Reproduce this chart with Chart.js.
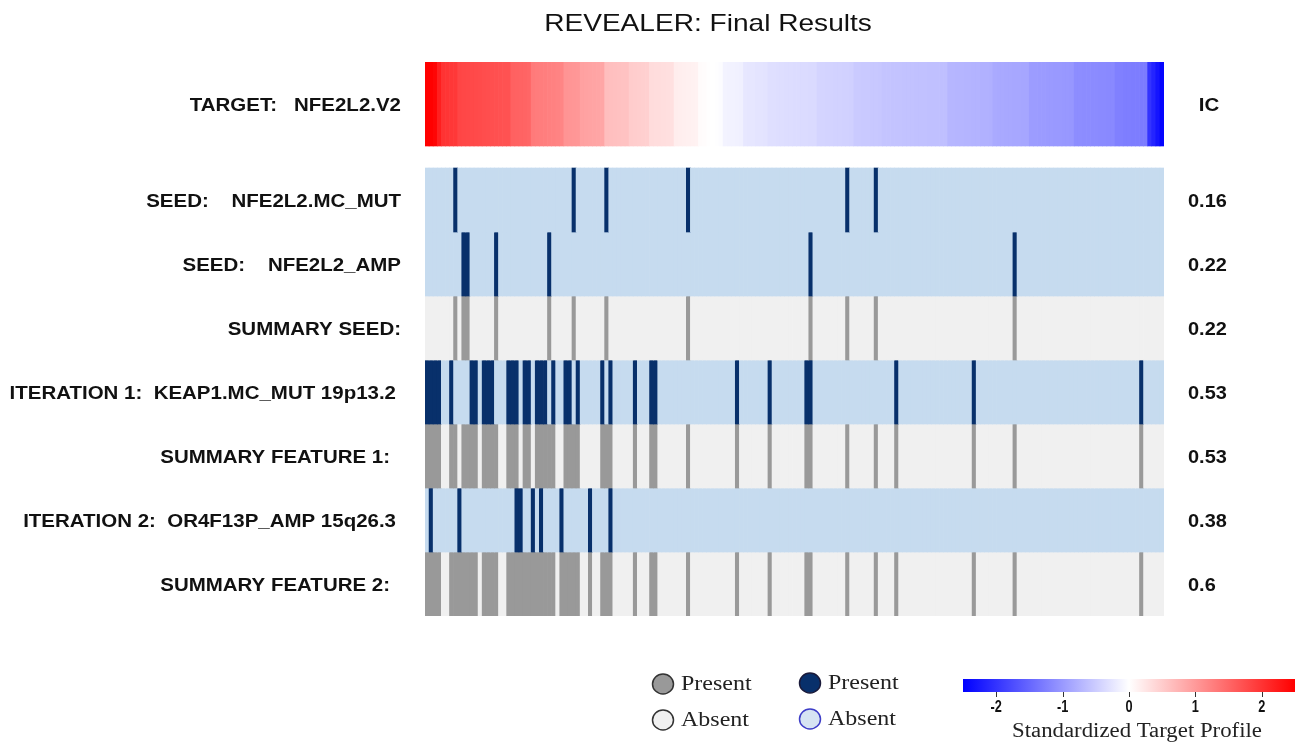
<!DOCTYPE html>
<html>
<head>
<meta charset="utf-8">
<title>REVEALER: Final Results</title>
<script src="https://cdn.jsdelivr.net/npm/chart.js@4.4.1/dist/chart.umd.min.js"></script>
<style>
  html, body { margin: 0; padding: 0; background: #ffffff; }
  #wrap { position: relative; width: 1308px; height: 749px; }
  canvas { display: block; }
</style>
</head>
<body>
<div id="wrap"><canvas id="revealer" width="1308" height="749"></canvas></div>
<script>
// Target profile (NFE2L2.V2), samples ordered from highest to lowest score
const targetProfile = [
  2.5, 2.5, 2.45, 2.2,
  2.0, 1.98, 1.96, 1.95,
  1.82, 1.8, 1.79, 1.78, 1.77, 1.76, 1.75, 1.74, 1.73, 1.72, 1.71, 1.7, 1.7,
  1.55, 1.54, 1.53, 1.52, 1.5,
  1.3, 1.28, 1.27, 1.26, 1.25, 1.24, 1.22, 1.2,
  1.05, 1.04, 1.03, 1.02,
  0.92, 0.91, 0.9, 0.89, 0.88, 0.87,
  0.64, 0.63, 0.62, 0.61, 0.6, 0.6,
  0.5, 0.49, 0.48, 0.47, 0.46,
  0.34, 0.33, 0.33, 0.32, 0.31, 0.3,
  0.18, 0.17, 0.16, 0.15, 0.14, 0.13,
  0.04, 0.03, 0.01, 0, -0.01, -0.03,
  -0.12, -0.13, -0.13, -0.14, -0.15,
  -0.24, -0.25, -0.25, -0.26, -0.26, -0.27,
  -0.31, -0.31, -0.32, -0.32, -0.33, -0.33, -0.34, -0.34, -0.35, -0.35, -0.36, -0.36,
  -0.42, -0.42, -0.43, -0.43, -0.44, -0.44, -0.45, -0.45, -0.46,
  -0.52, -0.52, -0.53, -0.53, -0.54, -0.54, -0.55,
  -0.58, -0.58, -0.59, -0.59, -0.59, -0.6, -0.6, -0.6, -0.61, -0.61, -0.61, -0.62, -0.62, -0.62, -0.63, -0.63,
  -0.72, -0.72, -0.73, -0.73, -0.74, -0.74, -0.75, -0.75, -0.76, -0.76, -0.77,
  -0.83, -0.84, -0.84, -0.85, -0.85, -0.86, -0.86, -0.87, -0.87,
  -0.97, -0.97, -0.98, -0.98, -0.99, -0.99, -1.0, -1.0, -1.01, -1.01, -1.02,
  -1.12, -1.12, -1.13, -1.13, -1.14, -1.14, -1.15, -1.15, -1.16, -1.16,
  -1.25, -1.25, -1.26, -1.26, -1.27, -1.27, -1.28, -1.28,
  -2.0, -2.15, -2.3, -2.45
];

// Sample positions (0-based, in target order) where each feature is present
const seedMcMut   = [7, 36, 44, 64, 103, 110];
const seedAmp     = [9, 10, 17, 30, 94, 144];
const summarySeed = [7, 9, 10, 17, 30, 36, 44, 64, 94, 103, 110, 144];
const keap1McMut  = [0, 1, 2, 3, 6, 11, 12, 14, 15, 16, 20, 21, 22, 24, 25, 27, 28, 29, 31,
                     34, 35, 37, 43, 45, 51, 55, 56, 76, 84, 93, 94, 115, 134, 175];
const summaryFeature1 = [0, 1, 2, 3, 6, 7, 9, 10, 11, 12, 14, 15, 16, 17, 20, 21, 22, 24, 25,
                     27, 28, 29, 30, 31, 34, 35, 36, 37, 43, 44, 45, 51, 55, 56, 64, 76, 84,
                     93, 94, 103, 110, 115, 134, 144, 175];
const or4f13pAmp  = [1, 8, 22, 23, 26, 28, 33, 40, 45];
const summaryFeature2 = [0, 1, 2, 3, 6, 7, 8, 9, 10, 11, 12, 14, 15, 16, 17, 20, 21, 22, 23, 24,
                     25, 26, 27, 28, 29, 30, 31, 33, 34, 35, 36, 37, 40, 43, 44, 45, 51, 55, 56,
                     64, 76, 84, 93, 94, 103, 110, 115, 134, 144, 175];

// Row names, kinds and information coefficients
const targetName = 'TARGET:   NFE2L2.V2';
const rowNames = [
  'SEED:    NFE2L2.MC_MUT',
  'SEED:    NFE2L2_AMP',
  'SUMMARY SEED:',
  'ITERATION 1:  KEAP1.MC_MUT 19p13.2',
  'SUMMARY FEATURE 1:',
  'ITERATION 2:  OR4F13P_AMP 15q26.3',
  'SUMMARY FEATURE 2:'
];
const rowKinds = ['feature', 'feature', 'summary', 'feature', 'summary', 'feature', 'summary'];
const rowPresent = [seedMcMut, seedAmp, summarySeed, keap1McMut, summaryFeature1, or4f13pAmp, summaryFeature2];
const icValues = ['0.16', '0.22', '0.22', '0.53', '0.53', '0.38', '0.6'];
const colorbarTicks = [-2, -1, 0, 1, 2];

// ---- styling ----
const COLORS = {
  feature: { on: '#08306b', off: '#c6dbef' },
  summary: { on: '#999999', off: '#f0f0f0' }
};
const PROFILE_LIMIT = 2.5;
const TARGET_H = 1.3125;      // target band height in row units
const ROW_START = 1.65625;    // first feature row (row units)
const Y_MAX = ROW_START + rowNames.length;
const TEXT_SX = 1.17;         // horizontal stretch of the typeface
const SANS = '"Liberation Sans", Arial, Helvetica, sans-serif';
const SERIF = '"Liberation Serif", "DejaVu Serif", "Times New Roman", serif';
const LABEL_FONT = `bold 17.5px ${SANS}`;

function profileColor(v) {
  const t = Math.min(1, Math.abs(v) / PROFILE_LIMIT);
  const c = Math.round(255 * (1 - t));
  return v >= 0 ? `rgb(255,${c},${c})` : `rgb(${c},${c},255)`;
}

const sampleIds = targetProfile.map((_, i) => 'S' + (i + 1));

const datasets = [];
datasets.push({
  label: targetName,
  data: sampleIds.map(() => [0, TARGET_H]),
  backgroundColor: targetProfile.map(profileColor)
});
rowNames.forEach((name, r) => {
  const present = new Set(rowPresent[r]);
  const pal = COLORS[rowKinds[r]];
  const lo = ROW_START + r, hi = lo + 1;
  datasets.push({
    label: name,
    data: sampleIds.map(() => [lo, hi]),
    backgroundColor: sampleIds.map((_, i) => present.has(i) ? pal.on : pal.off)
  });
});

function stretchedText(ctx, str, x, y, font, align, color, sx) {
  ctx.save();
  ctx.font = font;
  ctx.fillStyle = color || '#111';
  ctx.textBaseline = 'middle';
  ctx.textAlign = align;
  ctx.translate(x, y);
  ctx.scale(sx || TEXT_SX, 1);
  ctx.fillText(str, 0, 0);
  ctx.restore();
}

const labelRight = [401, 401, 401, 396, 390, 396, 390];

const decorations = {
  id: 'revealerDecorations',
  afterDraw(chart) {
    const ctx = chart.ctx;
    const y = chart.scales.y;

    // title
    stretchedText(ctx, 'REVEALER: Final Results', 708, 24, `24px ${SANS}`, 'center', '#111');

    // target label and IC header
    const tMid = y.getPixelForValue(TARGET_H / 2) + 2;
    stretchedText(ctx, targetName, 401, tMid, LABEL_FONT, 'right');
    stretchedText(ctx, 'IC', 1209, tMid, LABEL_FONT, 'center');

    // feature row labels and IC values
    rowNames.forEach((name, r) => {
      const mid = y.getPixelForValue(ROW_START + r + 0.5) + 2;
      stretchedText(ctx, name, labelRight[r], mid, LABEL_FONT, 'right');
      stretchedText(ctx, icValues[r], 1188, mid, LABEL_FONT, 'left', '#111', 1.14);
    });

    // legend for present / absent
    const items = [
      { x: 663, y: 684, fill: COLORS.summary.on, stroke: '#333', text: 'Present' },
      { x: 663, y: 720, fill: COLORS.summary.off, stroke: '#333', text: 'Absent' },
      { x: 810, y: 683, fill: COLORS.feature.on, stroke: '#1a1a3a', text: 'Present' },
      { x: 810, y: 719, fill: '#d6e4f3', stroke: '#3d3dc8', text: 'Absent' }
    ];
    items.forEach(it => {
      ctx.save();
      ctx.beginPath();
      ctx.ellipse(it.x, it.y, 10.5, 10, 0, 0, Math.PI * 2);
      ctx.fillStyle = it.fill;
      ctx.fill();
      ctx.lineWidth = 1.5;
      ctx.strokeStyle = it.stroke;
      ctx.stroke();
      ctx.restore();
      stretchedText(ctx, it.text, it.x + 18, it.y + 1, `20.5px ${SERIF}`, 'left', '#222');
    });

    // colour bar for the standardized target profile
    const cbL = 963, cbR = 1295, cbT = 679, cbB = 692;
    const toX = v => cbL + (v + PROFILE_LIMIT) / (2 * PROFILE_LIMIT) * (cbR - cbL);
    const grad = ctx.createLinearGradient(cbL, 0, cbR, 0);
    [-2.5, -1.25, 0, 1.25, 2.5].forEach(v => {
      grad.addColorStop((v + PROFILE_LIMIT) / (2 * PROFILE_LIMIT), profileColor(v));
    });
    ctx.save();
    ctx.fillStyle = grad;
    ctx.fillRect(cbL, cbT, cbR - cbL, cbB - cbT);
    ctx.strokeStyle = '#333';
    ctx.lineWidth = 1;
    colorbarTicks.forEach(v => {
      const x = Math.round(toX(v)) + 0.5;
      ctx.beginPath();
      ctx.moveTo(x, cbB);
      ctx.lineTo(x, cbB + 5);
      ctx.stroke();
    });
    ctx.restore();
    colorbarTicks.forEach(v => {
      ctx.save();
      ctx.font = `bold 15px "Liberation Sans Narrow", ${SANS}`;
      ctx.fillStyle = '#111';
      ctx.textAlign = 'center';
      ctx.textBaseline = 'middle';
      ctx.translate(toX(v), 707);
      ctx.scale(0.85, 1.15);
      ctx.fillText(String(v), 0, 0);
      ctx.restore();
    });
    stretchedText(ctx, 'Standardized Target Profile', (cbL + cbR) / 2 + 8, 732, `20px ${SERIF}`, 'center', '#222', 1.14);
  }
};

new Chart(document.getElementById('revealer'), {
  type: 'bar',
  data: { labels: sampleIds, datasets },
  options: {
    responsive: false,
    animation: false,
    devicePixelRatio: 1,
    layout: { padding: { left: 425, right: 144, top: 62, bottom: 133 } },
    datasets: {
      bar: { barPercentage: 1, categoryPercentage: 1, grouped: false, borderWidth: 0 }
    },
    plugins: {
      legend: { display: false },
      tooltip: { enabled: false },
      title: { display: false }
    },
    scales: {
      x: { display: false, offset: true, grid: { display: false } },
      y: { display: false, reverse: true, min: 0, max: Y_MAX, grid: { display: false } }
    }
  },
  plugins: [decorations]
});
</script>
</body>
</html>
